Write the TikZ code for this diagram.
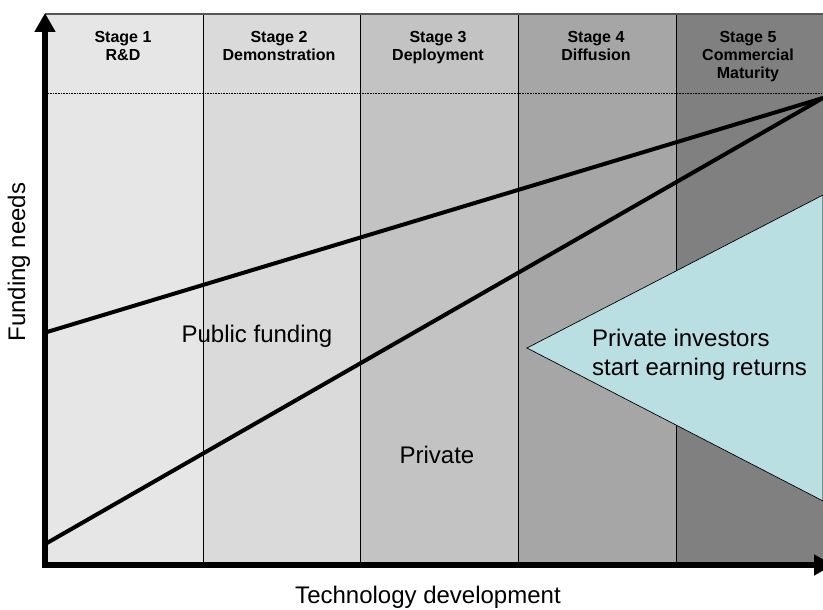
\documentclass[tikz,border=0pt]{standalone}
\usepackage{fontspec}
\setmainfont{Liberation Sans}
\usetikzlibrary{arrows.meta}
\definecolor{colA}{HTML}{E6E6E6}
\definecolor{colB}{HTML}{DADADA}
\definecolor{colC}{HTML}{C3C3C3}
\definecolor{colD}{HTML}{A6A6A6}
\definecolor{colE}{HTML}{808080}
\definecolor{tri}{HTML}{BADFE3}
\definecolor{topline}{HTML}{555555}
\tikzset{
  stagelbl/.style={font=\fontsize{16}{18}\selectfont\bfseries, align=center, anchor=north, inner sep=0pt},
  biglbl/.style={font=\fontsize{24}{29}\selectfont, inner sep=0pt},
  sepline/.style={black, line width=0.9pt},
  trend/.style={black, line width=4pt},
  axisline/.style={black, line width=6pt, -{Triangle[length=19pt,width=20pt]}}
}
\begin{document}
\begin{tikzpicture}[x=1pt,y=-1pt]
\useasboundingbox (0,0) rectangle (823,610);
% columns
\fill[colA] (45,14) rectangle (203,565);
\fill[colB] (203,14) rectangle (360,565);
\fill[colC] (360,14) rectangle (518,565);
\fill[colD] (518,14) rectangle (676,565);
\fill[colE] (676,14) rectangle (823,565);
\foreach \x in {203,360,518,676} \draw[sepline] (\x,14) -- (\x,565);
\draw[topline, line width=1.3pt] (45,14) -- (823,14);
\draw[black, line width=0.9pt, dash pattern=on 0.8pt off 0.8pt] (45,93) -- (823,93);
% stage labels
\node[stagelbl] (s1) at (123,31) {Stage 1\\R\&D};
\node[stagelbl] (s2) at (279,31) {Stage 2\\Demonstration};
\node[stagelbl] (s3) at (438,31) {Stage 3\\Deployment};
\node[stagelbl] (s4) at (596,31) {Stage 4\\Diffusion};
\node[stagelbl] (s5) at (748,31) {Stage 5\\Commercial\\Maturity};
% triangle
\coordinate (tapex) at (527,348);
\coordinate (ttop) at (823,195);
\coordinate (tbot) at (823,501);
\draw[draw=black, fill=tri, line width=0.7pt] (tapex) -- (ttop) -- (tbot) -- cycle;
% trend lines
\coordinate (conv) at (823,98);
\coordinate (l1) at (47,332);
\coordinate (l2) at (47,543);
\draw[trend] (l1) -- (conv);
\draw[trend] (l2) -- (conv);
% labels
\node[biglbl, anchor=base] (pub) at (257,342) {Public funding};
\node[biglbl, anchor=base] (priv) at (437,463) {Private};
\node[biglbl, anchor=north west, align=left] (inv) at (592,329) {Private investors\\start earning returns};
% axes
\coordinate (ybot) at (45,568);
\coordinate (ytop) at (45,13);
\coordinate (xbeg) at (42,565);
\coordinate (xend) at (833,565);
\draw[axisline] (ybot) -- (ytop);
\draw[axisline] (xbeg) -- (xend);
\node[biglbl, anchor=base, rotate=90] (ylbl) at (25,262) {Funding needs};
\node[biglbl, anchor=base] (xlbl) at (428,603) {Technology development};
\end{tikzpicture}
\end{document}
